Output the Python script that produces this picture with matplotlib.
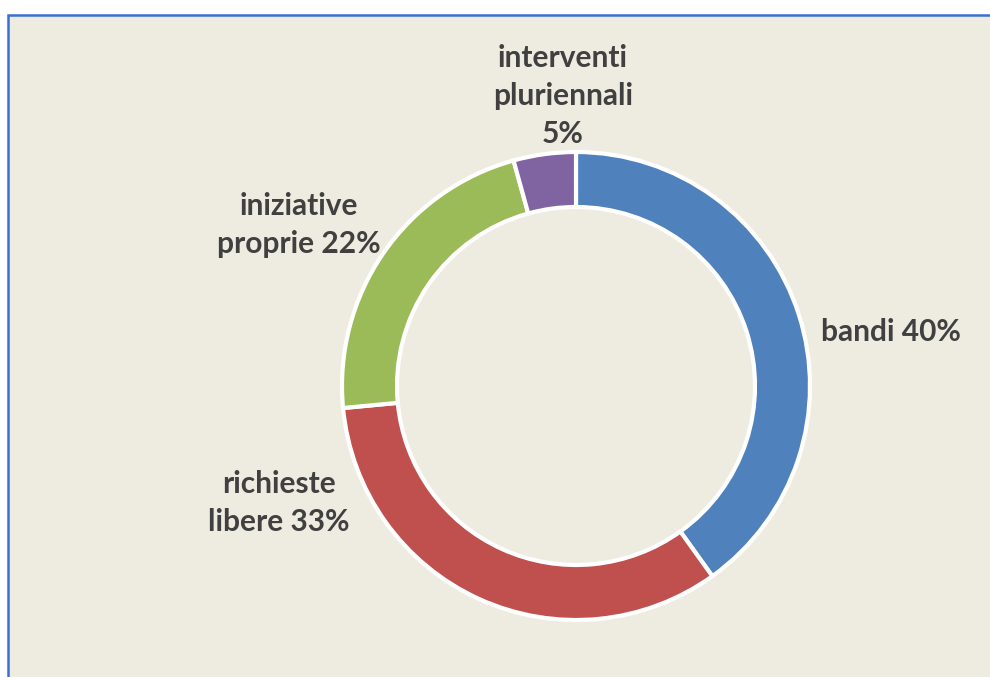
import matplotlib
matplotlib.use("Agg")
import matplotlib.pyplot as plt
from matplotlib.patches import Rectangle

# Data
categories = ["bandi", "richieste libere", "iniziative proprie", "interventi pluriennali"]
values = [40.1, 33.4, 22.2, 4.3]
label_texts = ["bandi 40%", "richieste\nlibere 33%", "iniziative\nproprie 22%", "interventi\npluriennali\n5%"]
colors = ["#4F81BD", "#C0504D", "#9BBB59", "#8064A2"]

W, H = 990, 677
fig = plt.figure(figsize=(W / 100, H / 100), dpi=100)
fig.patch.set_facecolor("white")

# chart area background with blue border (left and top visible)
bg = Rectangle((7.5 / W, -0.05), 1.2, (H - 14.5) / H + 0.05, transform=fig.transFigure,
               facecolor="#EEECE1", edgecolor="#3A6FD6", linewidth=1.8, zorder=-5)
fig.patches.append(bg)

cx, cy, R = 576, 386, 234
ax = fig.add_axes([(cx - R) / W, (H - cy - R) / H, 2 * R / W, 2 * R / H])
ax.set_zorder(1)
ax.patch.set_alpha(0)
wedges, _ = ax.pie(values, colors=colors, startangle=90, counterclock=False,
                   radius=1.0, wedgeprops=dict(width=0.235, edgecolor="white", linewidth=3))
ax.set_xlim(-1, 1)
ax.set_ylim(-1, 1)
ax.set_aspect("equal")
ax.axis("off")

# label positions (data coords of the pie axes)
label_pos = [(1.346, 0.231), (-1.269, -0.50), (-1.184, 0.688), (-0.056, 1.239)]
for txt, (x, y) in zip(label_texts, label_pos):
    ax.text(x, y, txt, ha="center", va="center", fontsize=21.5, fontweight="bold",
            family=["Lato", "DejaVu Sans"], color="#404040", linespacing=1.42, clip_on=False)

fig.savefig("out.png", dpi=100, facecolor=fig.get_facecolor())
